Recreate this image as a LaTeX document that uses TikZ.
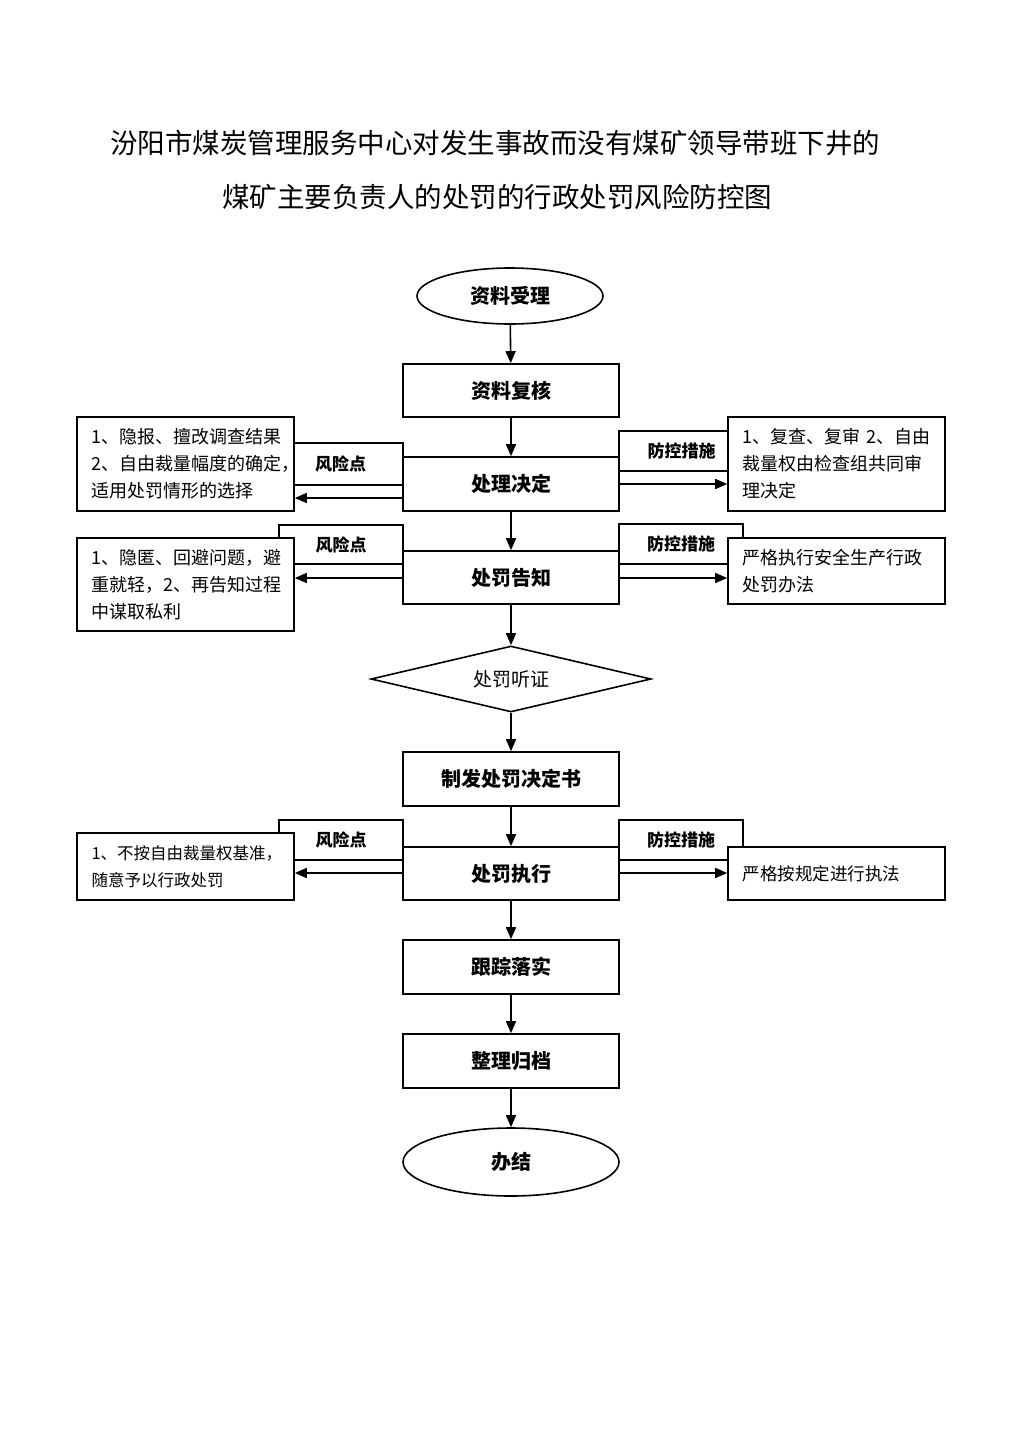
\documentclass[tikz,border=0pt]{standalone}
\usepackage{fontspec}
\setmainfont{Noto Sans CJK SC}
\usetikzlibrary{arrows.meta,shapes.geometric}
\tikzset{
 lw/.style={line width=1.6pt},
 box/.style={draw, lw, fill=white, inner sep=0pt, minimum width=216pt, minimum height=54pt, font=\fontsize{20}{24}\selectfont\bfseries},
 oval/.style={draw, lw, fill=white, ellipse, inner sep=0pt, font=\fontsize{20}{24}\selectfont\bfseries},
 side/.style={draw, lw, fill=white, inner sep=0pt, align=left, minimum width=217pt, text width=188pt, font=\fontsize{18}{27}\selectfont},
 tabbox/.style={draw, lw, fill=white, inner sep=0pt, font=\fontsize{17}{20}\selectfont\bfseries},
 arr/.style={lw, -{Triangle[length=12pt,width=10pt]}},
 ttl/.style={font=\fontsize{27.5}{32}\selectfont},
}
\begin{document}
\begin{tikzpicture}[x=1pt,y=-1pt]
\useasboundingbox (0,0) rectangle (1024,1448);
\fill[white] (0,0) rectangle (1024,1448);
% title
\node[ttl] (t1) at (495,143) {汾阳市煤炭管理服务中心对发生事故而没有煤矿领导带班下井的};
\node[ttl] (t2) at (497,197) {煤矿主要负责人的处罚的行政处罚风险防控图};
% tabs
\node[tabbox, minimum width=109pt, minimum height=42pt] (TL1) at (348.5,464) {\hspace*{-16pt}风险点};
\node[tabbox, minimum width=109pt, minimum height=40pt] (TR1) at (673.5,451) {\hspace*{16pt}防控措施};
\node[tabbox, minimum width=124pt, minimum height=39pt] (TL2) at (341,544.5) {风险点};
\node[tabbox, minimum width=124pt, minimum height=40pt] (TR2) at (681,544) {防控措施};
\node[tabbox, minimum width=124pt, minimum height=40pt] (TL3) at (341,840) {风险点};
\node[tabbox, minimum width=124pt, minimum height=40pt] (TR3) at (681,840) {防控措施};
% side boxes
\node[side, minimum height=94pt] (L1) at (185.5,464) {1、隐报、擅改调查结果\\2、自由裁量幅度的确定，\\适用处罚情形的选择};
\node[side, minimum height=94pt] (R1) at (836.5,464) {1、复查、复审 2、自由\\裁量权由检查组共同审\\理决定};
\node[side, minimum height=93pt] (L2) at (185.5,584.5) {1、隐匿、回避问题，避\\重就轻，2、再告知过程\\中谋取私利};
\node[side, minimum height=66pt] (R2) at (836.5,571) {严格执行安全生产行政\\处罚办法};
\node[side, minimum height=67pt, font=\fontsize{16.5}{27}\selectfont] (L3) at (185.5,866.5) {1、不按自由裁量权基准，\\随意予以行政处罚};
\node[side, minimum height=53pt, font=\fontsize{17.5}{27}\selectfont] (R3) at (836.5,873.5) {严格按规定进行执法};
% main column
\node[oval, minimum width=186pt, minimum height=56pt] (s) at (510,296) {资料受理};
\node[box, minimum height=53pt] (b1) at (511,390.5) {资料复核};
\node[box] (b2) at (511,484) {处理决定};
\node[box, minimum height=53pt] (b3) at (511,577.5) {处罚告知};
\node[draw, lw, fill=white, diamond, aspect=4.2, inner sep=0pt, minimum width=280pt, minimum height=66pt, font=\fontsize{19}{22}\selectfont] (d) at (511,679) {处罚听证};
\node[box] (b4) at (511,779) {制发处罚决定书};
\node[box, minimum height=53pt] (b5) at (511,873.5) {处罚执行};
\node[box] (b6) at (511,967) {跟踪落实};
\node[box] (b7) at (511,1061) {整理归档};
\node[oval, minimum width=216pt, minimum height=68pt] (e) at (511,1162) {办结};
% vertical arrows
\draw[arr] (s) -- (b1);
\draw[arr] (b1) -- (b2);
\draw[arr] (b2) -- (b3);
\draw[arr] (b3) -- (d);
\draw[arr] (d) -- (b4);
\draw[arr] (b4) -- (b5);
\draw[arr] (b5) -- (b6);
\draw[arr] (b6) -- (b7);
\draw[arr] (b7) -- (e);
% side arrows
\draw[arr] (b2.west |- 0,498) -- (L1.east |- 0,498);
\draw[arr] (b2.east |- 0,484) -- (R1.west |- 0,484);
\draw[arr] (b3.west |- 0,578) -- (L2.east |- 0,578);
\draw[arr] (b3.east |- 0,578) -- (R2.west |- 0,578);
\draw[arr] (b5.west |- 0,873) -- (L3.east |- 0,873);
\draw[arr] (b5.east |- 0,873) -- (R3.west |- 0,873);
\end{tikzpicture}
\end{document}
